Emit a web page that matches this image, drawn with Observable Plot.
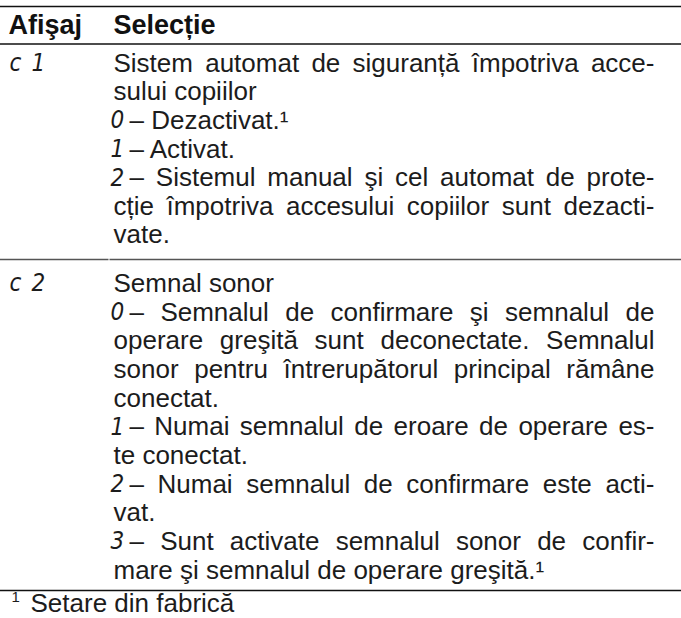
<!DOCTYPE html>
<html><head><meta charset="utf-8">
<script src="https://cdn.jsdelivr.net/npm/d3@7"></script>
<script src="https://cdn.jsdelivr.net/npm/@observablehq/plot@0.6"></script>
<style>
body{margin:0;background:#fff;}
svg{display:block;}
g.seg text{font-stretch:condensed;}
</style>
</head><body>
<div id="chart"></div>
<script>
// ---- data ----
const headers = ["Afişaj", "Selecție"];
const codes = ["c1", "c2"];
// each line: [digit prefix or "", text]
const section1 = [
  ["", "Sistem automat de siguranță împotriva acce-"],
  ["", "sului copiilor"],
  ["0", "– Dezactivat.¹"],
  ["1", "– Activat."],
  ["2", "– Sistemul manual şi cel automat de prote-"],
  ["", "cție împotriva accesului copiilor sunt dezacti-"],
  ["", "vate."]
];
const section2 = [
  ["", "Semnal sonor"],
  ["0", "– Semnalul de confirmare şi semnalul de"],
  ["", "operare greşită sunt deconectate. Semnalul"],
  ["", "sonor pentru întrerupătorul principal rămâne"],
  ["", "conectat."],
  ["1", "– Numai semnalul de eroare de operare es-"],
  ["", "te conectat."],
  ["2", "– Numai semnalul de confirmare este acti-"],
  ["", "vat."],
  ["3", "– Sunt activate semnalul sonor de confir-"],
  ["", "mare şi semnalul de operare greşită.¹"]
];
const footnoteMark = "1";
const footnoteText = "Setare din fabrică";

// ---- layout ----
const W = 681, H = 618;
const col1 = 9, col2 = 113, dashX = 129, rightEdge = 654;
const s1y = 63, lh1 = 28.6;
const s2y = 283, lh2 = 28.7;
const bodySize = 26, segSize = 24;

const sections = [section1, section2];
const starts = [s1y, s2y], steps = [lh1, lh2];
const plainRows = [], justRows = [], digitRows = [], codeRows = [];
sections.forEach((sec, si) => {
  sec.forEach(([d, t], i) => {
    const y = starts[si] + i * steps[si];
    const next = sec[i + 1];
    const justify = next !== undefined && next[0] === "";
    const row = {x: d ? dashX : col2, y, t};
    if (d) digitRows.push({x: col2 - 3, y, t: d});
    (justify ? justRows : plainRows).push(row);
  });
  [...codes[si]].forEach((ch, k) => codeRows.push({x: col1 + k * 22, y: starts[si], t: ch}));
});
const headerRows = [{x: col1 - 1, y: 25, t: headers[0]}, {x: col2, y: 25, t: headers[1]}];
const rules = [
  {x1: 0, x2: W, y: 6, c: "#111", w: 1.6},
  {x1: 0, x2: W, y: 43.5, c: "#111", w: 1.3},
  {x1: 0, x2: 108.5, y: 259, c: "#555", w: 1.6},
  {x1: 109.5, x2: W, y: 259, c: "#555", w: 1.6},
  {x1: 0, x2: W, y: 590, c: "#111", w: 1.6}
];

const font = "'Liberation Sans', Arial, Helvetica, sans-serif";
const segFont = "'DejaVu Sans Condensed', 'DejaVu Sans', sans-serif";
const ink = "#1c1c1c";
const plot = Plot.plot({
  width: W, height: H,
  margin: 0,
  x: {type: "identity", axis: null},
  y: {type: "identity", axis: null},
  style: {background: "#fff", fontFamily: font},
  marks: [
    ...rules.map(r => Plot.ruleY([r], {y: "y", x1: "x1", x2: "x2", stroke: r.c, strokeWidth: r.w})),
    Plot.text(headerRows, {x: "x", y: "y", text: "t", textAnchor: "start", fontSize: 27, fontWeight: "bold", fill: "#111", fontFamily: font}),
    Plot.text(plainRows, {x: "x", y: "y", text: "t", textAnchor: "start", fontSize: bodySize, fill: ink, fontFamily: font}),
    Plot.text(justRows, {x: "x", y: "y", text: "t", textAnchor: "start", fontSize: bodySize, fill: ink, fontFamily: font, className: "just"}),
    Plot.text(digitRows, {x: "x", y: "y", text: "t", textAnchor: "start", fontSize: segSize, fill: ink, fontFamily: segFont, fontStyle: "italic", className: "seg"}),
    Plot.text(codeRows, {x: "x", y: "y", text: "t", textAnchor: "start", fontSize: segSize, fill: ink, fontFamily: segFont, fontStyle: "italic", className: "seg"}),
    Plot.text([{x: 11, y: 597, t: footnoteMark}], {x: "x", y: "y", text: "t", textAnchor: "start", fontSize: 15, fill: ink, fontFamily: font}),
    Plot.text([{x: 30, y: 603, t: footnoteText}], {x: "x", y: "y", text: "t", textAnchor: "start", fontSize: bodySize, fill: ink, fontFamily: font})
  ]
});
document.getElementById("chart").appendChild(plot);

// justify the lines that continue into the next line
const justEls = plot.querySelectorAll("g.just text");
justEls.forEach((el, i) => {
  const row = justRows[i];
  if (!row) return;
  const w = el.getComputedTextLength();
  const spaces = (row.t.match(/ /g) || []).length;
  if (spaces > 0) {
    const extra = (rightEdge - row.x - w) / spaces;
    el.style.wordSpacing = extra + "px";
  }
});
</script>
</body></html>
